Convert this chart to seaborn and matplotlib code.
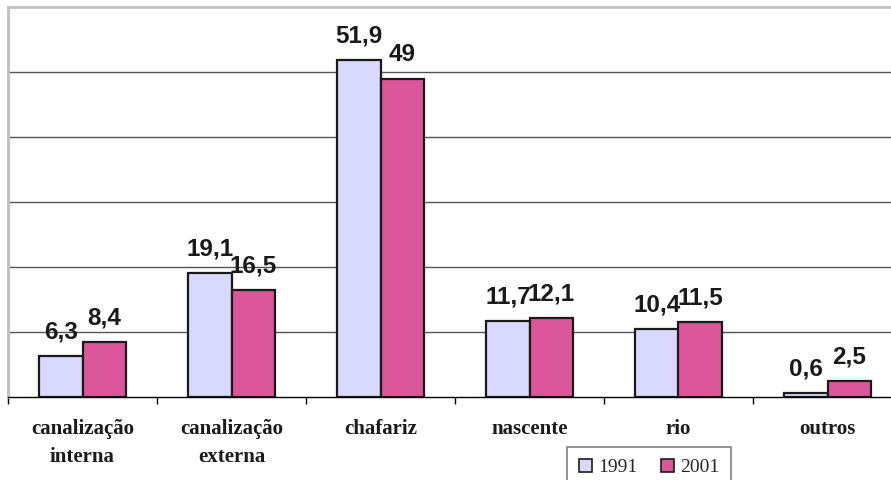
import matplotlib

matplotlib.use("Agg")
import matplotlib.pyplot as plt
import numpy as np
import pandas as pd
import seaborn as sns

# values
categories = ["canalização\ninterna", "canalização\nexterna", "chafariz",
              "nascente", "rio", "outros"]
years = ["1991", "2001"]
values_1991 = [6.3, 19.1, 51.9, 11.7, 10.4, 0.6]
values_2001 = [8.4, 16.5, 49, 12.1, 11.5, 2.5]
colors = ["#d9d9ff", "#db5799"]

df = pd.DataFrame({
    "fonte": categories * 2,
    "ano": [years[0]] * len(categories) + [years[1]] * len(categories),
    "pct": values_1991 + values_2001,
})

sns.set_theme(style="white")
fig = plt.figure(figsize=(8.91, 4.8), dpi=100)
ax = fig.add_axes([8 / 891, 83 / 480, 894 / 891, 390 / 480])

sns.barplot(data=df, x="fonte", y="pct", hue="ano", palette=colors,
            width=0.58, gap=0, edgecolor="#1a1a1a", linewidth=1.6,
            saturation=1, legend=False, ax=ax)

for cont, vals in zip(ax.containers, [values_1991, values_2001]):
    labels = [f"{v:g}".replace(".", ",") for v in vals]
    ax.bar_label(cont, labels=labels, padding=9, fontsize=17.5,
                 fontweight="bold", family="Liberation Sans", color="#1a1a1a")

ax.set_xlim(-0.5, 5.5)
ax.set_ylim(0, 60)
ax.set_yticks([10, 20, 30, 40, 50])
ax.yaxis.grid(True, color="#555555", linewidth=1)
ax.set_axisbelow(True)
ax.tick_params(axis="y", left=False, labelleft=False)
ax.set_xlabel("")
ax.set_ylabel("")

# labels at category centres, tick marks at boundaries
ax.set_xticks(range(len(categories)))
ax.set_xticklabels(categories, family="Liberation Serif", fontweight="bold",
                   fontsize=15, linespacing=1.55, color="#1a1a1a")
ax.tick_params(axis="x", which="major", length=0, pad=16)
ax.set_xticks(np.arange(-0.5, 6, 1), minor=True)
ax.tick_params(axis="x", which="minor", bottom=True, length=5, width=1,
               color="black", direction="out")

for side in ["top", "left", "right"]:
    ax.spines[side].set_color("#c0c0c0")
    ax.spines[side].set_linewidth(2)
ax.spines["bottom"].set_color("black")
ax.spines["bottom"].set_linewidth(1)

handles = [plt.Rectangle((0, 0), 1, 1, facecolor=c, edgecolor="#1a1a1a",
                         linewidth=1.2) for c in colors]
leg = fig.legend(handles, years, loc="upper left",
                 bbox_to_anchor=(567 / 891, 1 - 447 / 480), ncol=2,
                 prop={"family": "Liberation Serif", "size": 14},
                 frameon=True, fancybox=False, framealpha=1,
                 edgecolor="#808080", handlelength=0.7, handleheight=0.7,
                 handletextpad=0.3, columnspacing=1.2, borderpad=0.6,
                 borderaxespad=0)
leg.get_frame().set_linewidth(1.2)

fig.savefig("out.png", dpi=100)
